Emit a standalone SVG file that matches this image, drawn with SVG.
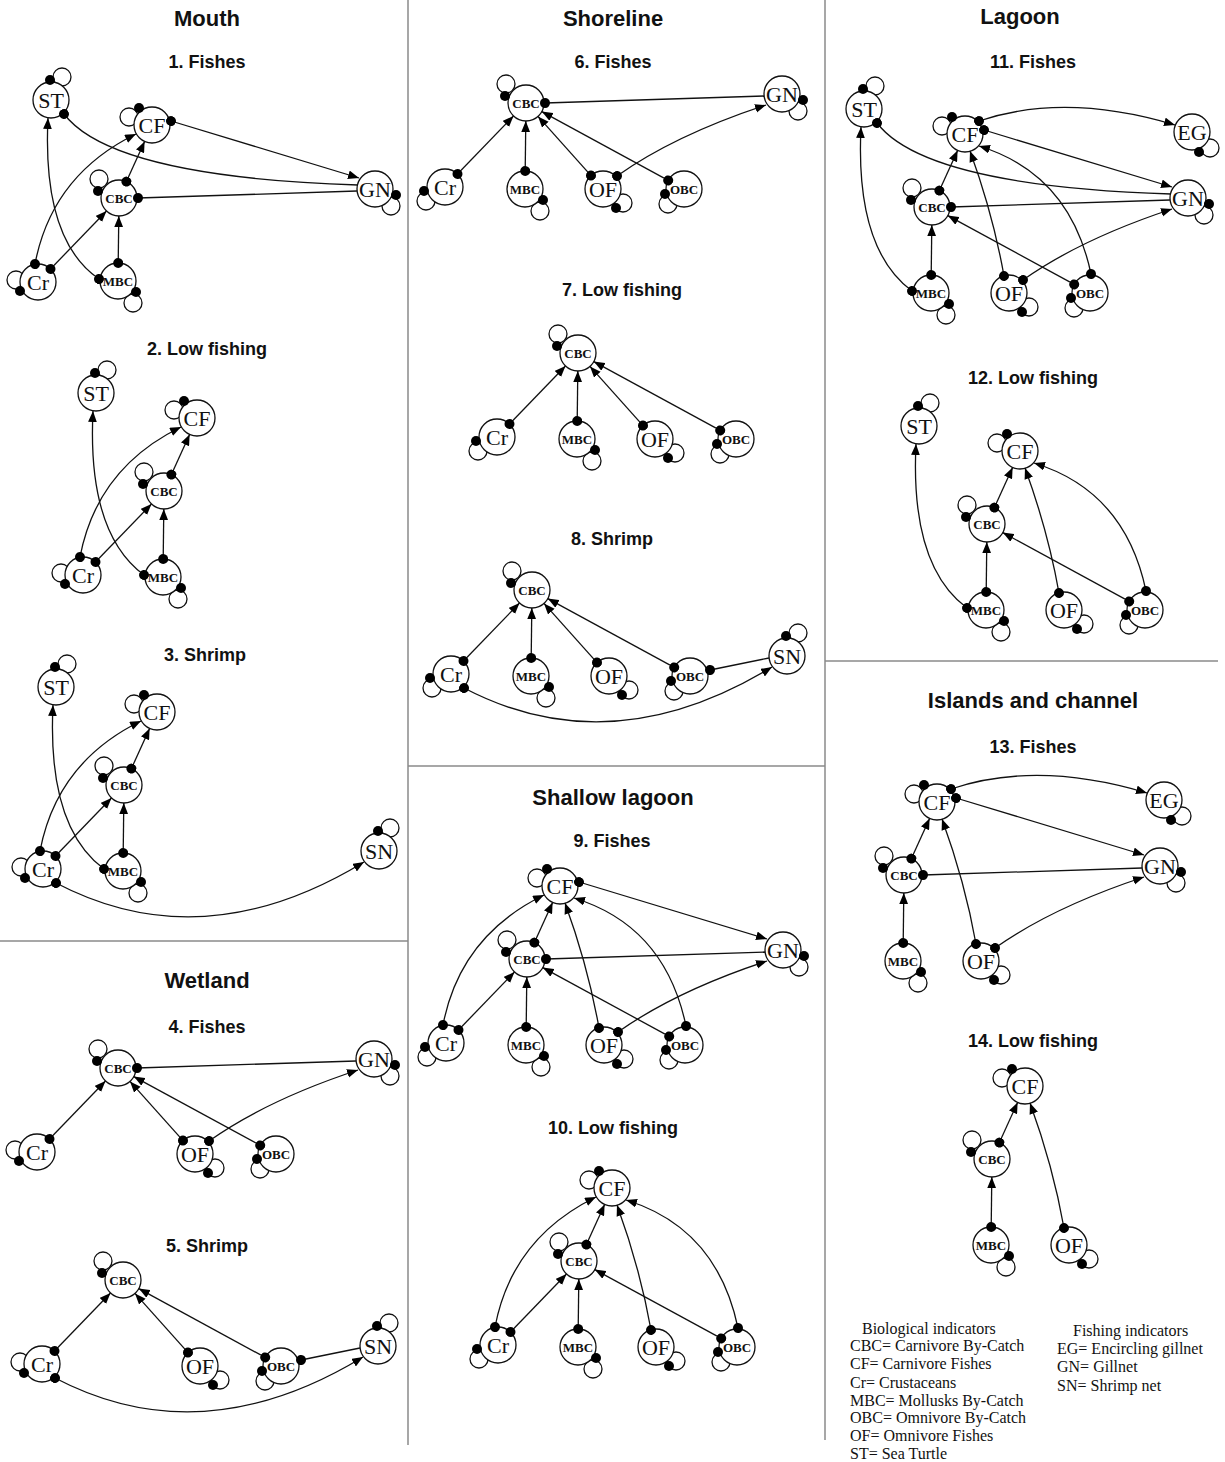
<svg xmlns="http://www.w3.org/2000/svg" width="1225" height="1462" viewBox="0 0 1225 1462">
<defs>
<style>
.bg{fill:#fff}
.div{stroke:#8a8a8a;stroke-width:1.5;fill:none}
.ttl{font-family:"Liberation Sans",Arial,sans-serif;font-weight:bold;font-size:22px;text-anchor:middle;fill:#111}
.sub{font-family:"Liberation Sans",Arial,sans-serif;font-weight:bold;font-size:18px;text-anchor:middle;fill:#111}
.leg{font-family:"Liberation Serif","Times New Roman",serif;font-size:16px;fill:#111}
.lp{fill:none;stroke:#111;stroke-width:1.3}
.nd{fill:#fff;stroke:#111;stroke-width:1.3}
.dt{fill:#000}
.lb{font-family:"Liberation Serif","Times New Roman",serif;font-size:22px;text-anchor:middle;fill:#111}
.lbs{font-family:"Liberation Serif","Times New Roman",serif;font-size:13px;font-weight:bold;text-anchor:middle;fill:#111}
.e{fill:none;stroke:#111;stroke-width:1.3;marker-start:url(#dot);marker-end:url(#arrow)}
.n{fill:none;stroke:#111;stroke-width:1.3;marker-start:url(#dot)}
</style>
<marker id="arrow" markerUnits="userSpaceOnUse" viewBox="0 0 10 8" refX="10" refY="4" markerWidth="11" markerHeight="9" orient="auto">
<path d="M0,0 L10,4 L0,8 z" fill="#000"/>
</marker>
<marker id="dot" markerUnits="userSpaceOnUse" viewBox="0 0 10 10" refX="5" refY="5" markerWidth="10" markerHeight="10" orient="auto">
<circle cx="5" cy="5" r="5" fill="#000"/>
</marker>
</defs>
<rect class="bg" x="0" y="0" width="1225" height="1462"/>

<g id="dividers">
<line class="div" x1="408" y1="0" x2="408" y2="1445"/>
<line class="div" x1="825" y1="0" x2="825" y2="1440"/>
<line class="div" x1="0" y1="941" x2="408" y2="941"/>
<line class="div" x1="408" y1="766" x2="825" y2="766"/>
<line class="div" x1="825" y1="661" x2="1218" y2="661"/>
</g>

<g id="titles">
<text class="ttl" x="207" y="26">Mouth</text>
<text class="ttl" x="613" y="26">Shoreline</text>
<text class="ttl" x="1020" y="24">Lagoon</text>
<text class="ttl" x="207" y="988">Wetland</text>
<text class="ttl" x="613" y="805">Shallow lagoon</text>
<text class="ttl" x="1033" y="708">Islands and channel</text>
<text class="sub" x="207" y="68">1. Fishes</text>
<text class="sub" x="207" y="355">2. Low fishing</text>
<text class="sub" x="205" y="661">3. Shrimp</text>
<text class="sub" x="207" y="1033">4. Fishes</text>
<text class="sub" x="207" y="1252">5. Shrimp</text>
<text class="sub" x="613" y="68">6. Fishes</text>
<text class="sub" x="622" y="296">7. Low fishing</text>
<text class="sub" x="612" y="545">8. Shrimp</text>
<text class="sub" x="612" y="847">9. Fishes</text>
<text class="sub" x="613" y="1134">10. Low fishing</text>
<text class="sub" x="1033" y="68">11. Fishes</text>
<text class="sub" x="1033" y="384">12. Low fishing</text>
<text class="sub" x="1033" y="753">13. Fishes</text>
<text class="sub" x="1033" y="1047">14. Low fishing</text>
</g>

<g id="nodes">
<!-- Panel 1 -->
<g id="panel1" transform="translate(152,125)">
<g id="p1-ST" transform="translate(-101,-25)"><circle class="lp" cx="11" cy="-23" r="9"/><circle class="nd" r="18"/><circle class="dt" cx="-1" cy="-20" r="5"/><text class="lb" y="7.5">ST</text></g>
<g id="p1-CF"><circle class="lp" cx="-23" cy="-8" r="9"/><circle class="nd" r="18"/><circle class="dt" cx="-13" cy="-17" r="5"/><text class="lb" y="7.5">CF</text></g>
<g id="p1-CBC" transform="translate(-33,73)"><circle class="lp" cx="-20" cy="-19" r="9"/><circle class="nd" r="18"/><circle class="dt" cx="-21" cy="-7" r="5"/><text class="lbs" y="4.5">CBC</text></g>
<g id="p1-GN" transform="translate(223,64)"><circle class="lp" cx="16" cy="17" r="9"/><circle class="nd" r="18"/><circle class="dt" cx="21" cy="6" r="5"/><text class="lb" y="7.5">GN</text></g>
<g id="p1-Cr" transform="translate(-114,157)"><circle class="lp" cx="-22" cy="-2" r="9"/><circle class="nd" r="18"/><circle class="dt" cx="-18" cy="9" r="5"/><text class="lb" y="7.5">Cr</text></g>
<g id="p1-MBC" transform="translate(-34,156)"><circle class="lp" cx="15" cy="22" r="9"/><circle class="nd" r="18"/><circle class="dt" cx="18" cy="11" r="5"/><text class="lbs" y="4.5">MBC</text></g>
</g>
<!-- Panel 2 -->
<g id="panel2" transform="translate(197,418)">
<g id="p2-ST" transform="translate(-101,-25)"><circle class="lp" cx="11" cy="-23" r="9"/><circle class="nd" r="18"/><circle class="dt" cx="-1" cy="-20" r="5"/><text class="lb" y="7.5">ST</text></g>
<g id="p2-CF"><circle class="lp" cx="-23" cy="-8" r="9"/><circle class="nd" r="18"/><circle class="dt" cx="-13" cy="-17" r="5"/><text class="lb" y="7.5">CF</text></g>
<g id="p2-CBC" transform="translate(-33,73)"><circle class="lp" cx="-20" cy="-19" r="9"/><circle class="nd" r="18"/><circle class="dt" cx="-21" cy="-7" r="5"/><text class="lbs" y="4.5">CBC</text></g>
<g id="p2-Cr" transform="translate(-114,157)"><circle class="lp" cx="-22" cy="-2" r="9"/><circle class="nd" r="18"/><circle class="dt" cx="-18" cy="9" r="5"/><text class="lb" y="7.5">Cr</text></g>
<g id="p2-MBC" transform="translate(-34,159)"><circle class="lp" cx="15" cy="22" r="9"/><circle class="nd" r="18"/><circle class="dt" cx="18" cy="11" r="5"/><text class="lbs" y="4.5">MBC</text></g>
</g>
<!-- Panel 3 -->
<g id="panel3" transform="translate(157,712)">
<g id="p3-ST" transform="translate(-101,-25)"><circle class="lp" cx="11" cy="-23" r="9"/><circle class="nd" r="18"/><circle class="dt" cx="-1" cy="-20" r="5"/><text class="lb" y="7.5">ST</text></g>
<g id="p3-CF"><circle class="lp" cx="-23" cy="-8" r="9"/><circle class="nd" r="18"/><circle class="dt" cx="-13" cy="-17" r="5"/><text class="lb" y="7.5">CF</text></g>
<g id="p3-CBC" transform="translate(-33,73)"><circle class="lp" cx="-20" cy="-19" r="9"/><circle class="nd" r="18"/><circle class="dt" cx="-21" cy="-7" r="5"/><text class="lbs" y="4.5">CBC</text></g>
<g id="p3-Cr" transform="translate(-114,157)"><circle class="lp" cx="-22" cy="-2" r="9"/><circle class="nd" r="18"/><circle class="dt" cx="-18" cy="9" r="5"/><text class="lb" y="7.5">Cr</text></g>
<g id="p3-MBC" transform="translate(-34,159)"><circle class="lp" cx="15" cy="22" r="9"/><circle class="nd" r="18"/><circle class="dt" cx="18" cy="11" r="5"/><text class="lbs" y="4.5">MBC</text></g>
<g id="p3-SN" transform="translate(222,139)"><circle class="lp" cx="11" cy="-23" r="9"/><circle class="nd" r="18"/><circle class="dt" cx="-1" cy="-20" r="5"/><text class="lb" y="7.5">SN</text></g>
</g>
<!-- Panel 4 -->
<g id="panel4" transform="translate(151,995)">
<g id="p4-CBC" transform="translate(-33,73)"><circle class="lp" cx="-20" cy="-19" r="9"/><circle class="nd" r="18"/><circle class="dt" cx="-21" cy="-7" r="5"/><text class="lbs" y="4.5">CBC</text></g>
<g id="p4-GN" transform="translate(223,64)"><circle class="lp" cx="16" cy="17" r="9"/><circle class="nd" r="18"/><circle class="dt" cx="21" cy="6" r="5"/><text class="lb" y="7.5">GN</text></g>
<g id="p4-Cr" transform="translate(-114,157)"><circle class="lp" cx="-22" cy="-2" r="9"/><circle class="nd" r="18"/><circle class="dt" cx="-18" cy="9" r="5"/><text class="lb" y="7.5">Cr</text></g>
<g id="p4-OF" transform="translate(44,159)"><circle class="lp" cx="20" cy="14" r="9"/><circle class="nd" r="18"/><circle class="dt" cx="13" cy="19" r="5"/><text class="lb" y="7.5">OF</text></g>
<g id="p4-OBC" transform="translate(125,159)"><circle class="lp" cx="-16" cy="15" r="9"/><circle class="nd" r="18"/><circle class="dt" cx="-19" cy="5" r="5"/><text class="lbs" y="4.5">OBC</text></g>
</g>
<!-- Panel 5 -->
<g id="panel5" transform="translate(156,1207)">
<g id="p5-CBC" transform="translate(-33,73)"><circle class="lp" cx="-20" cy="-19" r="9"/><circle class="nd" r="18"/><circle class="dt" cx="-21" cy="-7" r="5"/><text class="lbs" y="4.5">CBC</text></g>
<g id="p5-Cr" transform="translate(-114,157)"><circle class="lp" cx="-22" cy="-2" r="9"/><circle class="nd" r="18"/><circle class="dt" cx="-18" cy="9" r="5"/><text class="lb" y="7.5">Cr</text></g>
<g id="p5-OF" transform="translate(44,159)"><circle class="lp" cx="20" cy="14" r="9"/><circle class="nd" r="18"/><circle class="dt" cx="13" cy="19" r="5"/><text class="lb" y="7.5">OF</text></g>
<g id="p5-OBC" transform="translate(125,159)"><circle class="lp" cx="-16" cy="15" r="9"/><circle class="nd" r="18"/><circle class="dt" cx="-19" cy="5" r="5"/><text class="lbs" y="4.5">OBC</text></g>
<g id="p5-SN" transform="translate(222,139)"><circle class="lp" cx="11" cy="-23" r="9"/><circle class="nd" r="18"/><circle class="dt" cx="-1" cy="-20" r="5"/><text class="lb" y="7.5">SN</text></g>
</g>
<!-- Panel 6 -->
<g id="panel6" transform="translate(559,30)">
<g id="p6-CBC" transform="translate(-33,73)"><circle class="lp" cx="-20" cy="-19" r="9"/><circle class="nd" r="18"/><circle class="dt" cx="-21" cy="-7" r="5"/><text class="lbs" y="4.5">CBC</text></g>
<g id="p6-GN" transform="translate(223,64)"><circle class="lp" cx="16" cy="17" r="9"/><circle class="nd" r="18"/><circle class="dt" cx="21" cy="6" r="5"/><text class="lb" y="7.5">GN</text></g>
<g id="p6-Cr" transform="translate(-114,157)"><circle class="lp" cx="-19" cy="14" r="9"/><circle class="nd" r="18"/><circle class="dt" cx="-21" cy="4" r="5"/><text class="lb" y="7.5">Cr</text></g>
<g id="p6-MBC" transform="translate(-34,159)"><circle class="lp" cx="15" cy="22" r="9"/><circle class="nd" r="18"/><circle class="dt" cx="18" cy="11" r="5"/><text class="lbs" y="4.5">MBC</text></g>
<g id="p6-OF" transform="translate(44,159)"><circle class="lp" cx="20" cy="14" r="9"/><circle class="nd" r="18"/><circle class="dt" cx="13" cy="19" r="5"/><text class="lb" y="7.5">OF</text></g>
<g id="p6-OBC" transform="translate(125,159)"><circle class="lp" cx="-16" cy="15" r="9"/><circle class="nd" r="18"/><circle class="dt" cx="-19" cy="5" r="5"/><text class="lbs" y="4.5">OBC</text></g>
</g>
<!-- Panel 7 -->
<g id="panel7" transform="translate(611,280)">
<g id="p7-CBC" transform="translate(-33,73)"><circle class="lp" cx="-20" cy="-19" r="9"/><circle class="nd" r="18"/><circle class="dt" cx="-21" cy="-7" r="5"/><text class="lbs" y="4.5">CBC</text></g>
<g id="p7-Cr" transform="translate(-114,157)"><circle class="lp" cx="-19" cy="14" r="9"/><circle class="nd" r="18"/><circle class="dt" cx="-21" cy="4" r="5"/><text class="lb" y="7.5">Cr</text></g>
<g id="p7-MBC" transform="translate(-34,159)"><circle class="lp" cx="15" cy="22" r="9"/><circle class="nd" r="18"/><circle class="dt" cx="18" cy="11" r="5"/><text class="lbs" y="4.5">MBC</text></g>
<g id="p7-OF" transform="translate(44,159)"><circle class="lp" cx="20" cy="14" r="9"/><circle class="nd" r="18"/><circle class="dt" cx="13" cy="19" r="5"/><text class="lb" y="7.5">OF</text></g>
<g id="p7-OBC" transform="translate(125,159)"><circle class="lp" cx="-16" cy="15" r="9"/><circle class="nd" r="18"/><circle class="dt" cx="-19" cy="5" r="5"/><text class="lbs" y="4.5">OBC</text></g>
</g>
<!-- Panel 8 -->
<g id="panel8" transform="translate(565,517)">
<g id="p8-CBC" transform="translate(-33,73)"><circle class="lp" cx="-20" cy="-19" r="9"/><circle class="nd" r="18"/><circle class="dt" cx="-21" cy="-7" r="5"/><text class="lbs" y="4.5">CBC</text></g>
<g id="p8-Cr" transform="translate(-114,157)"><circle class="lp" cx="-19" cy="14" r="9"/><circle class="nd" r="18"/><circle class="dt" cx="-21" cy="4" r="5"/><text class="lb" y="7.5">Cr</text></g>
<g id="p8-MBC" transform="translate(-34,159)"><circle class="lp" cx="15" cy="22" r="9"/><circle class="nd" r="18"/><circle class="dt" cx="18" cy="11" r="5"/><text class="lbs" y="4.5">MBC</text></g>
<g id="p8-OF" transform="translate(44,159)"><circle class="lp" cx="20" cy="14" r="9"/><circle class="nd" r="18"/><circle class="dt" cx="13" cy="19" r="5"/><text class="lb" y="7.5">OF</text></g>
<g id="p8-OBC" transform="translate(125,159)"><circle class="lp" cx="-16" cy="15" r="9"/><circle class="nd" r="18"/><circle class="dt" cx="-19" cy="5" r="5"/><text class="lbs" y="4.5">OBC</text></g>
<g id="p8-SN" transform="translate(222,139)"><circle class="lp" cx="11" cy="-23" r="9"/><circle class="nd" r="18"/><circle class="dt" cx="-1" cy="-20" r="5"/><text class="lb" y="7.5">SN</text></g>
</g>
<!-- Panel 9 -->
<g id="panel9" transform="translate(560,886)">
<g id="p9-CF"><circle class="lp" cx="-23" cy="-8" r="9"/><circle class="nd" r="18"/><circle class="dt" cx="-13" cy="-17" r="5"/><text class="lb" y="7.5">CF</text></g>
<g id="p9-CBC" transform="translate(-33,73)"><circle class="lp" cx="-20" cy="-19" r="9"/><circle class="nd" r="18"/><circle class="dt" cx="-21" cy="-7" r="5"/><text class="lbs" y="4.5">CBC</text></g>
<g id="p9-GN" transform="translate(223,64)"><circle class="lp" cx="16" cy="17" r="9"/><circle class="nd" r="18"/><circle class="dt" cx="21" cy="6" r="5"/><text class="lb" y="7.5">GN</text></g>
<g id="p9-Cr" transform="translate(-114,157)"><circle class="lp" cx="-19" cy="14" r="9"/><circle class="nd" r="18"/><circle class="dt" cx="-21" cy="4" r="5"/><text class="lb" y="7.5">Cr</text></g>
<g id="p9-MBC" transform="translate(-34,159)"><circle class="lp" cx="15" cy="22" r="9"/><circle class="nd" r="18"/><circle class="dt" cx="18" cy="11" r="5"/><text class="lbs" y="4.5">MBC</text></g>
<g id="p9-OF" transform="translate(44,159)"><circle class="lp" cx="20" cy="14" r="9"/><circle class="nd" r="18"/><circle class="dt" cx="13" cy="19" r="5"/><text class="lb" y="7.5">OF</text></g>
<g id="p9-OBC" transform="translate(125,159)"><circle class="lp" cx="-16" cy="15" r="9"/><circle class="nd" r="18"/><circle class="dt" cx="-19" cy="5" r="5"/><text class="lbs" y="4.5">OBC</text></g>
</g>
<!-- Panel 10 -->
<g id="panel10" transform="translate(612,1188)">
<g id="p10-CF"><circle class="lp" cx="-23" cy="-8" r="9"/><circle class="nd" r="18"/><circle class="dt" cx="-13" cy="-17" r="5"/><text class="lb" y="7.5">CF</text></g>
<g id="p10-CBC" transform="translate(-33,73)"><circle class="lp" cx="-20" cy="-19" r="9"/><circle class="nd" r="18"/><circle class="dt" cx="-21" cy="-7" r="5"/><text class="lbs" y="4.5">CBC</text></g>
<g id="p10-Cr" transform="translate(-114,157)"><circle class="lp" cx="-19" cy="14" r="9"/><circle class="nd" r="18"/><circle class="dt" cx="-21" cy="4" r="5"/><text class="lb" y="7.5">Cr</text></g>
<g id="p10-MBC" transform="translate(-34,159)"><circle class="lp" cx="15" cy="22" r="9"/><circle class="nd" r="18"/><circle class="dt" cx="18" cy="11" r="5"/><text class="lbs" y="4.5">MBC</text></g>
<g id="p10-OF" transform="translate(44,159)"><circle class="lp" cx="20" cy="14" r="9"/><circle class="nd" r="18"/><circle class="dt" cx="13" cy="19" r="5"/><text class="lb" y="7.5">OF</text></g>
<g id="p10-OBC" transform="translate(125,159)"><circle class="lp" cx="-16" cy="15" r="9"/><circle class="nd" r="18"/><circle class="dt" cx="-19" cy="5" r="5"/><text class="lbs" y="4.5">OBC</text></g>
</g>
<!-- Panel 11 -->
<g id="panel11" transform="translate(965,134)">
<g id="p11-ST" transform="translate(-101,-25)"><circle class="lp" cx="11" cy="-23" r="9"/><circle class="nd" r="18"/><circle class="dt" cx="-1" cy="-20" r="5"/><text class="lb" y="7.5">ST</text></g>
<g id="p11-CF"><circle class="lp" cx="-23" cy="-8" r="9"/><circle class="nd" r="18"/><circle class="dt" cx="-13" cy="-17" r="5"/><text class="lb" y="7.5">CF</text></g>
<g id="p11-EG" transform="translate(227,-2)"><circle class="lp" cx="18" cy="16" r="9"/><circle class="nd" r="18"/><circle class="dt" cx="7" cy="20" r="5"/><text class="lb" y="7.5">EG</text></g>
<g id="p11-CBC" transform="translate(-33,73)"><circle class="lp" cx="-20" cy="-19" r="9"/><circle class="nd" r="18"/><circle class="dt" cx="-21" cy="-7" r="5"/><text class="lbs" y="4.5">CBC</text></g>
<g id="p11-GN" transform="translate(223,64)"><circle class="lp" cx="16" cy="17" r="9"/><circle class="nd" r="18"/><circle class="dt" cx="21" cy="6" r="5"/><text class="lb" y="7.5">GN</text></g>
<g id="p11-MBC" transform="translate(-34,159)"><circle class="lp" cx="15" cy="22" r="9"/><circle class="nd" r="18"/><circle class="dt" cx="18" cy="11" r="5"/><text class="lbs" y="4.5">MBC</text></g>
<g id="p11-OF" transform="translate(44,159)"><circle class="lp" cx="20" cy="14" r="9"/><circle class="nd" r="18"/><circle class="dt" cx="13" cy="19" r="5"/><text class="lb" y="7.5">OF</text></g>
<g id="p11-OBC" transform="translate(125,159)"><circle class="lp" cx="-16" cy="15" r="9"/><circle class="nd" r="18"/><circle class="dt" cx="-19" cy="5" r="5"/><text class="lbs" y="4.5">OBC</text></g>
</g>
<!-- Panel 12 -->
<g id="panel12" transform="translate(1020,451)">
<g id="p12-ST" transform="translate(-101,-25)"><circle class="lp" cx="11" cy="-23" r="9"/><circle class="nd" r="18"/><circle class="dt" cx="-1" cy="-20" r="5"/><text class="lb" y="7.5">ST</text></g>
<g id="p12-CF"><circle class="lp" cx="-23" cy="-8" r="9"/><circle class="nd" r="18"/><circle class="dt" cx="-13" cy="-17" r="5"/><text class="lb" y="7.5">CF</text></g>
<g id="p12-CBC" transform="translate(-33,73)"><circle class="lp" cx="-20" cy="-19" r="9"/><circle class="nd" r="18"/><circle class="dt" cx="-21" cy="-7" r="5"/><text class="lbs" y="4.5">CBC</text></g>
<g id="p12-MBC" transform="translate(-34,159)"><circle class="lp" cx="15" cy="22" r="9"/><circle class="nd" r="18"/><circle class="dt" cx="18" cy="11" r="5"/><text class="lbs" y="4.5">MBC</text></g>
<g id="p12-OF" transform="translate(44,159)"><circle class="lp" cx="20" cy="14" r="9"/><circle class="nd" r="18"/><circle class="dt" cx="13" cy="19" r="5"/><text class="lb" y="7.5">OF</text></g>
<g id="p12-OBC" transform="translate(125,159)"><circle class="lp" cx="-16" cy="15" r="9"/><circle class="nd" r="18"/><circle class="dt" cx="-19" cy="5" r="5"/><text class="lbs" y="4.5">OBC</text></g>
</g>
<!-- Panel 13 -->
<g id="panel13" transform="translate(937,802)">
<g id="p13-CF"><circle class="lp" cx="-23" cy="-8" r="9"/><circle class="nd" r="18"/><circle class="dt" cx="-13" cy="-17" r="5"/><text class="lb" y="7.5">CF</text></g>
<g id="p13-EG" transform="translate(227,-2)"><circle class="lp" cx="18" cy="16" r="9"/><circle class="nd" r="18"/><circle class="dt" cx="7" cy="20" r="5"/><text class="lb" y="7.5">EG</text></g>
<g id="p13-CBC" transform="translate(-33,73)"><circle class="lp" cx="-20" cy="-19" r="9"/><circle class="nd" r="18"/><circle class="dt" cx="-21" cy="-7" r="5"/><text class="lbs" y="4.5">CBC</text></g>
<g id="p13-GN" transform="translate(223,64)"><circle class="lp" cx="16" cy="17" r="9"/><circle class="nd" r="18"/><circle class="dt" cx="21" cy="6" r="5"/><text class="lb" y="7.5">GN</text></g>
<g id="p13-MBC" transform="translate(-34,159)"><circle class="lp" cx="15" cy="22" r="9"/><circle class="nd" r="18"/><circle class="dt" cx="18" cy="11" r="5"/><text class="lbs" y="4.5">MBC</text></g>
<g id="p13-OF" transform="translate(44,159)"><circle class="lp" cx="20" cy="14" r="9"/><circle class="nd" r="18"/><circle class="dt" cx="13" cy="19" r="5"/><text class="lb" y="7.5">OF</text></g>
</g>
<!-- Panel 14 -->
<g id="panel14" transform="translate(1025,1086)">
<g id="p14-CF"><circle class="lp" cx="-23" cy="-8" r="9"/><circle class="nd" r="18"/><circle class="dt" cx="-13" cy="-17" r="5"/><text class="lb" y="7.5">CF</text></g>
<g id="p14-CBC" transform="translate(-33,73)"><circle class="lp" cx="-20" cy="-19" r="9"/><circle class="nd" r="18"/><circle class="dt" cx="-21" cy="-7" r="5"/><text class="lbs" y="4.5">CBC</text></g>
<g id="p14-MBC" transform="translate(-34,159)"><circle class="lp" cx="15" cy="22" r="9"/><circle class="nd" r="18"/><circle class="dt" cx="18" cy="11" r="5"/><text class="lbs" y="4.5">MBC</text></g>
<g id="p14-OF" transform="translate(44,159)"><circle class="lp" cx="20" cy="14" r="9"/><circle class="nd" r="18"/><circle class="dt" cx="13" cy="19" r="5"/><text class="lb" y="7.5">OF</text></g>
</g>
</g>

<g id="connectors">
<g id="p1-edges" transform="translate(152,125)">
<path class="e" d="M-101.5,144 L-45.5,86"/>
<path class="e" d="M-33.8,138 L-33.2,91"/>
<path class="e" d="M-25.6,56.6 L-7.4,16.4"/>
<path class="e" d="M-117,139 Q-100,50 -16,9"/>
<path class="e" d="M-53,154 Q-110,115 -104,-7"/>
<path class="e" d="M19,-4 L207,53"/>
<path class="n" d="M-14,73 L205,66"/>
<path class="n" d="M-88,-11 Q-40,52 206,60"/>
</g>
<g id="p2-edges" transform="translate(197,418)">
<path class="e" d="M-101.5,144 L-45.5,86"/>
<path class="e" d="M-33.8,141 L-33.2,91"/>
<path class="e" d="M-25.6,56.6 L-7.4,16.4"/>
<path class="e" d="M-117,139 Q-100,50 -16,9"/>
<path class="e" d="M-53,157 Q-110,115 -104,-7"/>
</g>
<g id="p3-edges" transform="translate(157,712)">
<path class="e" d="M-101.5,144 L-45.5,86"/>
<path class="e" d="M-33.8,141 L-33.2,91"/>
<path class="e" d="M-25.6,56.6 L-7.4,16.4"/>
<path class="e" d="M-117,139 Q-100,50 -16,9"/>
<path class="e" d="M-53,157 Q-110,115 -104,-7"/>
<path class="e" d="M-101,171 Q46,248 207,150"/>
</g>
<g id="p4-edges" transform="translate(151,995)">
<path class="e" d="M-101.5,144 L-45.5,86"/>
<path class="e" d="M32,145.6 L-21,86.4"/>
<path class="e" d="M109.2,150.4 L-17.2,81.6"/>
<path class="n" d="M-14,73 L205,66"/>
<path class="e" d="M58,146 Q116,105 207,75"/>
</g>
<g id="p5-edges" transform="translate(156,1207)">
<path class="e" d="M-101.5,144 L-45.5,86"/>
<path class="e" d="M32,145.6 L-21,86.4"/>
<path class="e" d="M109.2,150.4 L-17.2,81.6"/>
<path class="e" d="M-101,171 Q46,248 207,150"/>
<path class="n" d="M145,153 L204,141"/>
</g>
<g id="p6-edges" transform="translate(559,30)">
<path class="e" d="M-101.5,144 L-45.5,86"/>
<path class="e" d="M-33.8,141 L-33.2,91"/>
<path class="e" d="M32,145.6 L-21,86.4"/>
<path class="e" d="M109.2,150.4 L-17.2,81.6"/>
<path class="n" d="M-14,73 L205,66"/>
<path class="e" d="M58,146 Q116,105 207,75"/>
</g>
<g id="p7-edges" transform="translate(611,280)">
<path class="e" d="M-101.5,144 L-45.5,86"/>
<path class="e" d="M-33.8,141 L-33.2,91"/>
<path class="e" d="M32,145.6 L-21,86.4"/>
<path class="e" d="M109.2,150.4 L-17.2,81.6"/>
</g>
<g id="p8-edges" transform="translate(565,517)">
<path class="e" d="M-101.5,144 L-45.5,86"/>
<path class="e" d="M-33.8,141 L-33.2,91"/>
<path class="e" d="M32,145.6 L-21,86.4"/>
<path class="e" d="M109.2,150.4 L-17.2,81.6"/>
<path class="e" d="M-101,171 Q46,248 207,150"/>
<path class="n" d="M145,153 L204,141"/>
</g>
<g id="p9-edges" transform="translate(560,886)">
<path class="e" d="M-101.5,144 L-45.5,86"/>
<path class="e" d="M-33.8,141 L-33.2,91"/>
<path class="e" d="M109.2,150.4 L-17.2,81.6"/>
<path class="e" d="M-25.6,56.6 L-7.4,16.4"/>
<path class="e" d="M-117,139 Q-100,50 -16,9"/>
<path class="e" d="M39,142 Q28,80 5,17"/>
<path class="e" d="M126,140 Q105,40 14,12"/>
<path class="e" d="M19,-4 L207,53"/>
<path class="n" d="M-14,73 L205,66"/>
<path class="e" d="M58,146 Q116,105 207,75"/>
</g>
<g id="p10-edges" transform="translate(612,1188)">
<path class="e" d="M-101.5,144 L-45.5,86"/>
<path class="e" d="M-33.8,141 L-33.2,91"/>
<path class="e" d="M109.2,150.4 L-17.2,81.6"/>
<path class="e" d="M-25.6,56.6 L-7.4,16.4"/>
<path class="e" d="M-117,139 Q-100,50 -16,9"/>
<path class="e" d="M39,142 Q28,80 5,17"/>
<path class="e" d="M126,140 Q105,40 14,12"/>
</g>
<g id="p11-edges" transform="translate(965,134)">
<path class="e" d="M-33.8,141 L-33.2,91"/>
<path class="e" d="M109.2,150.4 L-17.2,81.6"/>
<path class="e" d="M-25.6,56.6 L-7.4,16.4"/>
<path class="e" d="M39,142 Q28,80 5,17"/>
<path class="e" d="M126,140 Q105,40 14,12"/>
<path class="e" d="M-53,157 Q-110,115 -104,-7"/>
<path class="e" d="M19,-4 L207,53"/>
<path class="n" d="M-14,73 L205,66"/>
<path class="n" d="M-88,-11 Q-40,52 206,60"/>
<path class="e" d="M58,146 Q116,105 207,75"/>
<path class="e" d="M14,-13 Q100,-42 210,-9"/>
</g>
<g id="p12-edges" transform="translate(1020,451)">
<path class="e" d="M-33.8,141 L-33.2,91"/>
<path class="e" d="M109.2,150.4 L-17.2,81.6"/>
<path class="e" d="M-25.6,56.6 L-7.4,16.4"/>
<path class="e" d="M39,142 Q28,80 5,17"/>
<path class="e" d="M126,140 Q105,40 14,12"/>
<path class="e" d="M-53,157 Q-110,115 -104,-7"/>
</g>
<g id="p13-edges" transform="translate(937,802)">
<path class="e" d="M-33.8,141 L-33.2,91"/>
<path class="e" d="M-25.6,56.6 L-7.4,16.4"/>
<path class="e" d="M39,142 Q28,80 5,17"/>
<path class="e" d="M19,-4 L207,53"/>
<path class="n" d="M-14,73 L205,66"/>
<path class="e" d="M58,146 Q116,105 207,75"/>
<path class="e" d="M14,-13 Q100,-42 210,-9"/>
</g>
<g id="p14-edges" transform="translate(1025,1086)">
<path class="e" d="M-33.8,141 L-33.2,91"/>
<path class="e" d="M-25.6,56.6 L-7.4,16.4"/>
<path class="e" d="M39,142 Q28,80 5,17"/>
</g>
</g>

<g id="legend">
<text class="leg" x="862" y="1334">Biological indicators</text>
<text class="leg" x="850" y="1351">CBC= Carnivore By-Catch</text>
<text class="leg" x="850" y="1369">CF= Carnivore Fishes</text>
<text class="leg" x="850" y="1388">Cr= Crustaceans</text>
<text class="leg" x="850" y="1406">MBC= Mollusks By-Catch</text>
<text class="leg" x="850" y="1423">OBC= Omnivore By-Catch</text>
<text class="leg" x="850" y="1441">OF= Omnivore Fishes</text>
<text class="leg" x="850" y="1459">ST= Sea Turtle</text>
<text class="leg" x="1073" y="1336">Fishing indicators</text>
<text class="leg" x="1057" y="1354">EG= Encircling gillnet</text>
<text class="leg" x="1057" y="1372">GN= Gillnet</text>
<text class="leg" x="1057" y="1391">SN= Shrimp net</text>
</g>
</svg>
